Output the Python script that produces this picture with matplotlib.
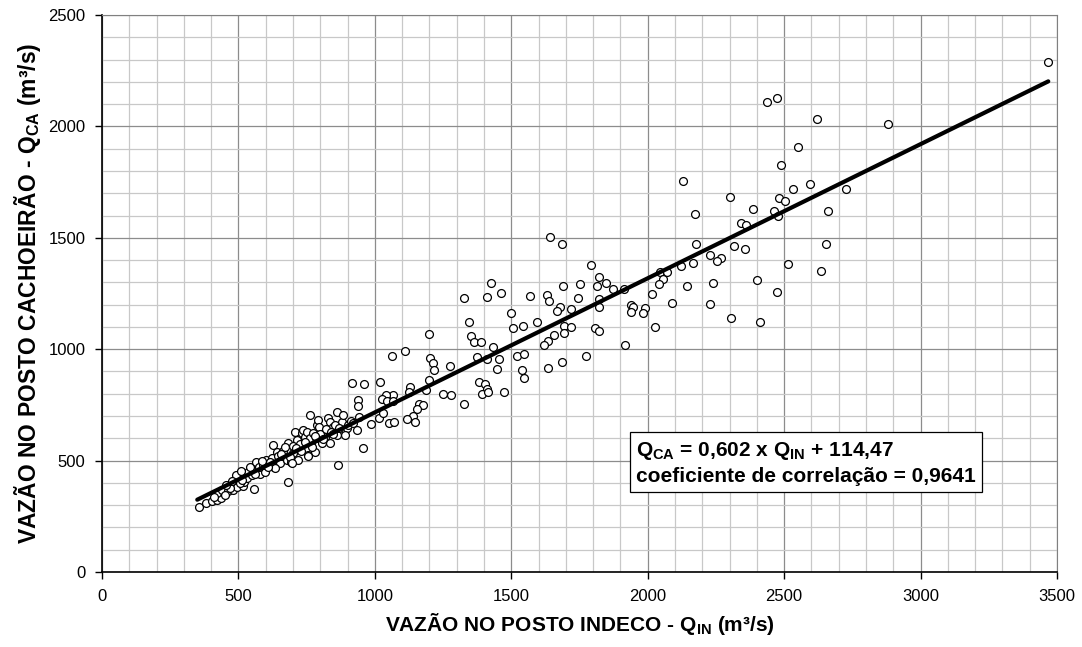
import numpy as np
import matplotlib.pyplot as plt
from matplotlib.ticker import MultipleLocator

plt.rcParams["font.family"] = ["Liberation Sans", "DejaVu Sans"]
plt.rcParams["mathtext.fontset"] = "custom"
plt.rcParams["mathtext.rm"] = "Liberation Sans:bold"
plt.rcParams["mathtext.bf"] = "Liberation Sans:bold"

# vazões observadas (m³/s): posto Indeco (x) e posto Cachoeirão (y)
q_in = [
    356, 380, 402, 420, 436, 423, 440, 463, 481, 494, 491, 517, 520, 530, 536,
    542, 557, 549, 566, 579, 597, 601, 622, 626, 640, 630, 652, 659, 677, 681,
    683, 692, 701, 707, 714, 719, 732, 738, 744, 752, 756, 762, 765, 762, 774,
    781, 787, 790, 796, 805, 817, 829, 834, 836, 848, 860, 862, 865, 878, 882,
    891, 897, 903, 689, 695, 754, 634, 450, 470, 505, 512, 560, 575, 590, 615,
    645, 665, 670, 700, 725, 745, 770, 785, 800, 820, 840, 855, 870, 410, 455,
    475, 510, 585, 610, 655, 710, 730, 780, 810, 845,
    915, 960, 1019, 1065, 1041, 1025, 1043, 1068, 938, 939, 942, 1015, 1031,
    1053, 1070, 985, 911, 921, 935, 892, 955, 1063, 1112, 1198, 1202, 1214,
    1218, 1275, 1198, 1187, 1129, 1125, 1160, 1175, 1153, 1141, 1117, 1146,
    1251, 1278, 1325, 1327, 1346, 1352, 1363, 1389, 1434, 1373, 1412, 1456,
    1449, 1380, 1405, 1410, 1394, 1414, 1472, 1424, 1412, 1462,
    1642, 1686, 1791, 1820, 1846, 1813, 1752, 1688, 1874, 1913, 1570, 1630,
    1637, 1743, 1822, 1823, 1680, 1669, 1720, 1500, 1593, 1507, 1543, 1693,
    1720, 1692, 1655, 1633, 1619, 1805, 1823, 1915, 1774, 1522, 1548, 1540,
    1548, 1635, 1686, 1938, 1946, 1938, 1990, 1984, 2016, 2027, 2089, 2143,
    2045, 2057, 2043, 2071, 2122, 2165, 2177,
    2130, 2552, 2487, 2595, 2531, 2725, 2480, 2503, 2302, 2173, 2385, 2464,
    2479, 2662, 2342, 2359, 2315, 2355, 2653, 2228, 2270, 2255, 2515, 2636,
    2240, 2402, 2473, 2228, 2305, 2413, 2438, 2473, 2879, 2622, 3468,
]
q_ca = [
    290, 308, 320, 322, 331, 353, 368, 362, 368, 380, 435, 386, 405, 421, 450,
    473, 374, 435, 492, 440, 450, 503, 513, 570, 537, 473, 490, 521, 503, 405,
    578, 495, 533, 630, 592, 504, 622, 637, 607, 630, 525, 705, 580, 600, 622,
    540, 660, 682, 652, 580, 607, 690, 578, 675, 652, 719, 615, 482, 675, 705,
    637, 645, 660, 518, 488, 522, 465, 345, 375, 398, 415, 440, 470, 480, 495,
    520, 545, 560, 565, 575, 585, 560, 600, 620, 640, 630, 660, 645, 335, 390,
    410, 455, 500, 470, 530, 555, 545, 610, 595, 620,
    847, 845, 851, 796, 794, 775, 769, 769, 772, 745, 697, 692, 712,
    669, 675, 666, 679, 667, 637, 615, 558, 969, 992, 1067, 959, 937,
    907, 926, 862, 817, 832, 809, 753, 751, 732, 701, 688, 672,
    798, 794, 755, 1228, 1121, 1061, 1034, 1031, 1011, 966, 956, 956,
    912, 854, 844, 820, 798, 807, 807, 1296, 1236, 1251,
    1505, 1472, 1378, 1323, 1297, 1282, 1294, 1285, 1271, 1271, 1237, 1245,
    1218, 1230, 1224, 1189, 1189, 1173, 1180, 1162, 1121, 1096, 1104, 1104,
    1101, 1071, 1062, 1038, 1019, 1096, 1083, 1019, 971, 969, 977, 908,
    872, 917, 941, 1200, 1188, 1167, 1185, 1161, 1246, 1100, 1206, 1285,
    1348, 1315, 1294, 1348, 1373, 1385, 1472,
    1756, 1906, 1828, 1740, 1719, 1719, 1680, 1667, 1682, 1607, 1629, 1620,
    1598, 1622, 1568, 1557, 1462, 1451, 1473, 1425, 1411, 1396, 1381, 1351,
    1296, 1312, 1255, 1201, 1140, 1121, 2108, 2126, 2012, 2033, 2288,
]

# reta de regressão ajustada
coef_a = 0.602
coef_b = 114.47
corr = 0.9641

fig = plt.figure(figsize=(10.82, 6.47), dpi=100)
ax = fig.add_axes([0.0943, 0.1159, 0.8826, 0.8609])

ax.set_xlim(0, 3500)
ax.set_ylim(0, 2500)
ax.xaxis.set_major_locator(MultipleLocator(500))
ax.yaxis.set_major_locator(MultipleLocator(500))
ax.xaxis.set_minor_locator(MultipleLocator(100))
ax.yaxis.set_minor_locator(MultipleLocator(100))
ax.grid(which="minor", color="#c8c8c8", lw=0.9, zorder=0)
ax.grid(which="major", color="#8c8c8c", lw=0.9, zorder=0)
ax.set_axisbelow(True)

ax.tick_params(which="major", direction="out", length=5, width=1,
               labelsize=12, pad=7, top=False, right=False)
ax.tick_params(which="minor", length=0)
for side in ("top", "right"):
    ax.spines[side].set_color("#808080")
for side in ("left", "bottom"):
    ax.spines[side].set_color("black")
    ax.spines[side].set_linewidth(1.2)

ax.scatter(q_in, q_ca, s=32, facecolors="white", edgecolors="black",
           linewidths=0.9, zorder=3)

xr = np.array([min(q_in) - 7, max(q_in)])
ax.plot(xr, coef_a * xr + coef_b, color="black", lw=3, zorder=4,
        solid_capstyle="round")

ax.set_xlabel(r"VAZÃO NO POSTO INDECO - Q$_{\mathrm{IN}}$ (m³/s)",
              fontsize=15, fontweight="bold", labelpad=5)
ax.set_ylabel(r"VAZÃO NO POSTO CACHOEIRÃO - Q$_{\mathrm{CA}}$ (m³/s)",
              fontsize=16.5, fontweight="bold", labelpad=4)

eq = (r"Q$_{\mathrm{CA}}$ = " + f"{coef_a:.3f}".replace(".", ",")
      + r" x Q$_{\mathrm{IN}}$ + " + f"{coef_b:.2f}".replace(".", ",")
      + "\ncoeficiente de correlação = " + f"{corr:.4f}".replace(".", ","))
ax.text(0.559, 0.196, eq, transform=ax.transAxes, fontsize=15,
        fontweight="bold", va="center", ha="left", linespacing=1.3,
        zorder=5,
        bbox=dict(boxstyle="square,pad=0.3", fc="white", ec="black", lw=0.9))

fig.savefig("out.png", dpi=100)
